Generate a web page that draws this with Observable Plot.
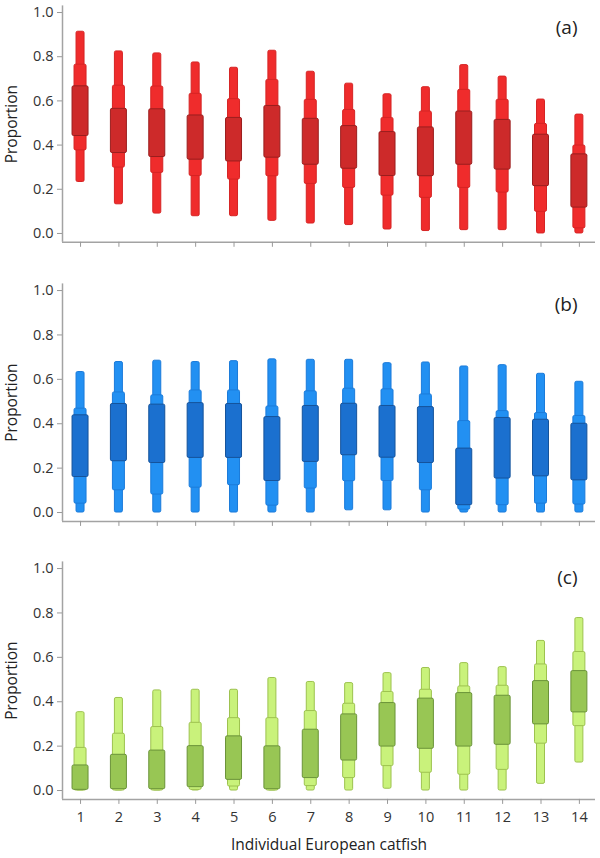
<!DOCTYPE html>
<html>
<head>
<meta charset="utf-8">
<script src="https://cdn.jsdelivr.net/npm/d3@7"></script>
<script src="https://cdn.jsdelivr.net/npm/@observablehq/plot@0.6"></script>
<style>
  html, body { margin: 0; padding: 0; background: #fff; }
  #chart { width: 600px; }
  #chart svg { display: block; }
</style>
</head>
<body>
<div id="chart"></div>
<script>
// Individuals (x categories)
const individuals = [1, 2, 3, 4, 5, 6, 7, 8, 9, 10, 11, 12, 13, 14];
const yTicks = [0, 0.2, 0.4, 0.6, 0.8, 1.0];
const panelLabels = ["(a)", "(b)", "(c)"];
const yLabel = "Proportion";
const xLabel = "Individual European catfish";

// Panel (a) – [low, high] for outer / middle / inner intervals
const aOuter = [[0.233,0.913],[0.132,0.824],[0.090,0.815],[0.078,0.774],[0.078,0.750],[0.057,0.827],[0.045,0.732],[0.038,0.678],[0.018,0.630],[0.011,0.662],[0.015,0.762],[0.015,0.710],[0.000,0.606],[0.000,0.538]];
const aMiddle = [[0.376,0.764],[0.298,0.669],[0.274,0.665],[0.260,0.632],[0.244,0.608],[0.259,0.695],[0.224,0.605],[0.206,0.559],[0.171,0.523],[0.161,0.552],[0.206,0.650],[0.185,0.605],[0.098,0.496],[0.023,0.398]];
const aInner = [[0.441,0.666],[0.364,0.564],[0.346,0.562],[0.334,0.534],[0.326,0.523],[0.343,0.577],[0.311,0.519],[0.293,0.486],[0.260,0.459],[0.259,0.480],[0.311,0.552],[0.289,0.514],[0.214,0.447],[0.117,0.358]];

// Panel (b)
const bOuter = [[0,0.633],[0,0.678],[0,0.684],[0,0.678],[0,0.682],[0,0.690],[0,0.688],[0.010,0.688],[0.010,0.673],[0,0.676],[0,0.658],[0,0.664],[0,0.625],[0,0.589]];
const bMiddle = [[0.040,0.468],[0.100,0.541],[0.081,0.528],[0.112,0.550],[0.123,0.550],[0.031,0.478],[0.108,0.546],[0.141,0.558],[0.142,0.555],[0.100,0.532],[0.013,0.412],[0.033,0.457],[0.040,0.448],[0.036,0.435]];
const bInner = [[0.160,0.438],[0.231,0.489],[0.223,0.486],[0.246,0.493],[0.246,0.489],[0.142,0.430],[0.228,0.480],[0.258,0.490],[0.247,0.480],[0.223,0.475],[0.033,0.288],[0.153,0.426],[0.163,0.418],[0.145,0.400]];

// Panel (c)
const cOuter = [[0,0.353],[0,0.417],[0,0.451],[0,0.454],[0,0.454],[0,0.507],[0,0.489],[0,0.484],[0.008,0.529],[0,0.552],[0,0.574],[0,0.556],[0.030,0.674],[0.126,0.777]];
const cMiddle = [[0,0.192],[0,0.256],[0,0.286],[0.003,0.305],[0.018,0.326],[0,0.326],[0.020,0.358],[0.056,0.391],[0.110,0.444],[0.080,0.454],[0.071,0.469],[0.093,0.472],[0.211,0.568],[0.290,0.624]];
const cInner = [[0.003,0.113],[0.006,0.161],[0.006,0.180],[0.015,0.200],[0.048,0.244],[0.006,0.199],[0.056,0.274],[0.135,0.343],[0.198,0.394],[0.188,0.414],[0.198,0.439],[0.206,0.427],[0.298,0.493],[0.352,0.538]];

const palettes = [
  {light: "#EF2C2C", lightStroke: "#D62424", dark: "#CD2A2A", darkStroke: "#9A1E1E"},
  {light: "#2290F2", lightStroke: "#1B7BDA", dark: "#1B70CF", darkStroke: "#15539B"},
  {light: "#C9F27B", lightStroke: "#9DC24F", dark: "#98C654", darkStroke: "#6A9339"}
];

const xDomain = [0.53, 14.42];
const yDomain = [-0.04, 1.03];
const font = "'Open Sans', Lato, sans-serif";

function rows(pairs) {
  return pairs.map(([lo, hi], i) => ({id: individuals[i], lo, hi}));
}

function panel(k, outer, middle, inner, opts) {
  const pal = palettes[k];
  const band = (data, w, fill, stroke) => Plot.rect(rows(data), {
    x1: "id", x2: "id", y1: "lo", y2: "hi",
    insetLeft: -w / 2, insetRight: -w / 2,
    fill, stroke, strokeWidth: 1, rx: 1.5
  });
  const marks = [
    Plot.ruleX([xDomain[0]], {stroke: "#a3a3a3", strokeWidth: 1.5}),
    Plot.ruleY([yDomain[0]], {stroke: "#a3a3a3", strokeWidth: 1.5}),
    Plot.axisY({ticks: yTicks, tickFormat: d3.format(".1f"), tickSize: 5, tickPadding: 4,
      stroke: "#999", fill: "#333", fontSize: 14.5, label: null}),
    Plot.axisX({ticks: individuals, tickSize: 5, tickPadding: 7, stroke: "#999", fill: "#333",
      fontSize: 14.5, label: null, tickFormat: opts.showX ? d => String(d) : () => ""}),
    band(outer, 8, pal.light, pal.lightStroke),
    band(middle, 12, pal.light, pal.lightStroke),
    band(inner, 16, pal.dark, pal.darkStroke),
    Plot.text([panelLabels[k]], {frameAnchor: "top-right", dx: -18, dy: opts.labelDy,
      textAnchor: "end", lineAnchor: "middle", fontSize: 19, fill: "#222"}),
    Plot.text([yLabel], {frameAnchor: "left", dx: -50, dy: opts.yLabelDy, rotate: -90,
      textAnchor: "middle", lineAnchor: "middle", fontSize: 15.5, fill: "#222"})
  ];
  if (opts.showX) {
    marks.push(Plot.text([xLabel], {frameAnchor: "bottom", dy: 46, textAnchor: "middle",
      lineAnchor: "middle", fontSize: 15.5, fill: "#222"}));
  }
  return Plot.plot({
    width: 600,
    height: opts.height,
    marginLeft: 62,
    marginRight: 5,
    marginTop: opts.marginTop,
    marginBottom: opts.marginBottom,
    style: {fontFamily: font, background: "white", color: "#333", overflow: "visible"},
    x: {type: "linear", domain: xDomain},
    y: {domain: yDomain},
    marks
  });
}

const chart = document.getElementById("chart");
chart.appendChild(panel(0, aOuter, aMiddle, aInner, {height: 270, marginTop: 5.4, marginBottom: 28.2, labelDy: 22, yLabelDy: 0, showX: false}));
chart.appendChild(panel(1, bOuter, bMiddle, bInner, {height: 278, marginTop: 13.4, marginBottom: 27.1, labelDy: 21, yLabelDy: 0, showX: false}));
chart.appendChild(panel(2, cOuter, cMiddle, cInner, {height: 310, marginTop: 13.4, marginBottom: 59.1, labelDy: 16, yLabelDy: 0, showX: true}));
</script>
</body>
</html>
